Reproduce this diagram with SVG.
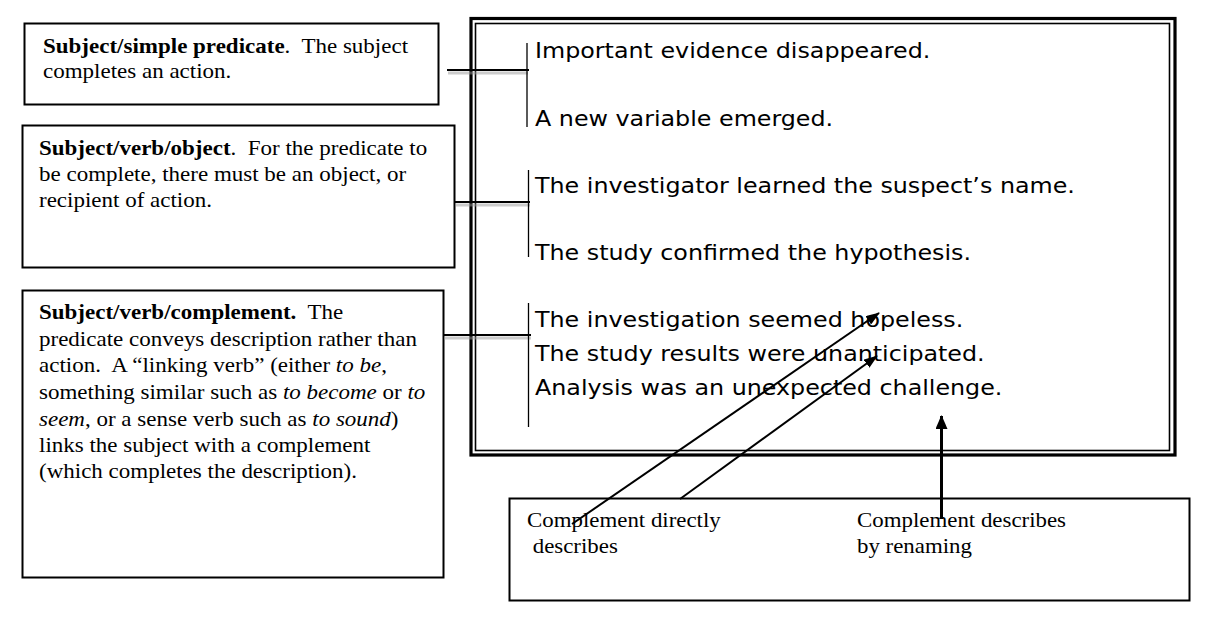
<svg xmlns="http://www.w3.org/2000/svg" width="1213" height="621" viewBox="0 0 1213 621">
<style>
.box{fill:#fff;stroke:#000;stroke-width:2}
.serif{font-family:"Liberation Serif","Times New Roman",serif;font-size:21px;fill:#000}
.sans{font-family:"DejaVu Sans",Verdana,sans-serif;font-size:21.5px;fill:#000}
.b{font-weight:bold}
.i{font-style:italic}
.brk{stroke:#000;stroke-width:1.3;fill:none}
.hl{stroke:#000;stroke-width:2;fill:none}
.sh{stroke:#999;stroke-width:3;fill:none;opacity:0.5}
.arr{stroke:#000;fill:none}
</style>
<defs>
<marker id="ah" markerUnits="userSpaceOnUse" markerWidth="14" markerHeight="10" refX="13" refY="5" orient="auto">
<path d="M0,0 L14,5 L0,10 Z" fill="#000"/>
</marker>
<marker id="ahb" markerUnits="userSpaceOnUse" markerWidth="14" markerHeight="12" refX="13" refY="6" orient="auto">
<path d="M0,0 L14,6 L0,12 Z" fill="#000"/>
</marker>
</defs>
<rect width="1213" height="621" fill="#fff"/>

<g id="sentences-box">
<rect x="471" y="18.5" width="704" height="436.5" fill="#fff" stroke="#000" stroke-width="3.2"/>
<rect x="475.5" y="23.5" width="694" height="427" fill="none" stroke="#000" stroke-width="1.6"/>
<g transform="translate(535,0) scale(1.107,1)">
<text class="sans" x="0" y="58">Important evidence disappeared.</text>
<text class="sans" x="0" y="126">A new variable emerged.</text>
<text class="sans" x="0" y="193">The investigator learned the suspect’s name.</text>
<text class="sans" x="0" y="260">The study confirmed the hypothesis.</text>
<text class="sans" x="0" y="327">The investigation seemed hopeless.</text>
<text class="sans" x="0" y="361">The study results were unanticipated.</text>
<text class="sans" x="0" y="395">Analysis was an unexpected challenge.</text>
</g>
</g>

<g id="node-simple-predicate">
<rect class="box" x="24.5" y="23.5" width="414" height="81"/>
<g transform="translate(43,0) scale(1.095,1)">
<text class="serif" x="0" y="53" xml:space="preserve"><tspan class="b">Subject/simple predicate</tspan>.  The subject</text>
<text class="serif" x="0" y="78">completes an action.</text>
</g>
</g>

<g id="node-verb-object">
<rect class="box" x="22.5" y="125.5" width="432" height="142"/>
<g transform="translate(39,0) scale(1.095,1)">
<text class="serif" x="0" y="155" xml:space="preserve"><tspan class="b">Subject/verb/object</tspan>.  For the predicate to</text>
<text class="serif" x="0" y="181">be complete, there must be an object, or</text>
<text class="serif" x="0" y="207">recipient of action.</text>
</g>
</g>

<g id="node-verb-complement">
<rect class="box" x="22.5" y="290.5" width="421" height="287"/>
<g transform="translate(39,0) scale(1.095,1)">
<text class="serif" x="0" y="319" xml:space="preserve"><tspan class="b">Subject/verb/complement.</tspan>  The</text>
<text class="serif" x="0" y="346">predicate conveys description rather than</text>
<text class="serif" x="0" y="372" xml:space="preserve">action.  A “linking verb” (either <tspan class="i">to be</tspan>,</text>
<text class="serif" x="0" y="399">something similar such as <tspan class="i">to become</tspan> or <tspan class="i">to</tspan></text>
<text class="serif" x="0" y="426"><tspan class="i">seem</tspan>, or a sense verb such as <tspan class="i">to sound</tspan>)</text>
<text class="serif" x="0" y="452">links the subject with a complement</text>
<text class="serif" x="0" y="478">(which completes the description).</text>
</g>
</g>

<g id="node-complement-notes">
<rect class="box" x="509.5" y="498.5" width="680" height="102"/>
<g transform="translate(527,0) scale(1.09,1)">
<text class="serif" x="0" y="527">Complement directly</text>
<text class="serif" x="0" y="553" xml:space="preserve"> describes</text>
</g>
<g transform="translate(857,0) scale(1.09,1)">
<text class="serif" x="0" y="527">Complement describes</text>
<text class="serif" x="0" y="553">by renaming</text>
</g>
</g>

<g id="connectors">
<line class="sh" x1="448" y1="73" x2="528" y2="73"/>
<line class="sh" x1="456" y1="205" x2="530" y2="205"/>
<line class="sh" x1="444" y1="338" x2="531" y2="338"/>
<line class="brk" x1="527" y1="43" x2="527" y2="127"/>
<line class="hl" x1="447" y1="70" x2="529" y2="70"/>
<line class="brk" x1="528.5" y1="170" x2="528.5" y2="257"/>
<line class="hl" x1="455" y1="202" x2="530" y2="202"/>
<line class="brk" x1="528.5" y1="303" x2="528.5" y2="427"/>
<line class="hl" x1="443" y1="335" x2="531" y2="335"/>
<line class="arr" stroke-width="2" x1="572" y1="524" x2="879" y2="313" marker-end="url(#ah)"/>
<line class="arr" stroke-width="2" x1="680" y1="499" x2="877" y2="356" marker-end="url(#ah)"/>
<line class="arr" stroke-width="3" x1="941.5" y1="519" x2="941.5" y2="416" marker-end="url(#ahb)"/>
</g>
</svg>
